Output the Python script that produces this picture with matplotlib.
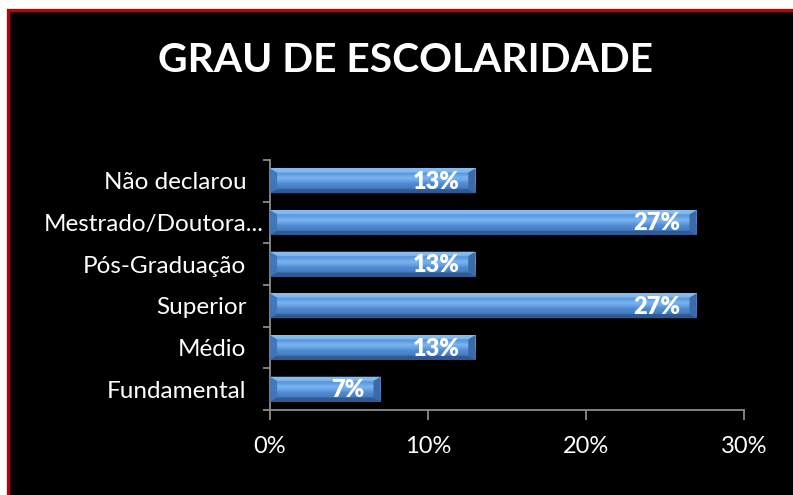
import numpy as np
import matplotlib
matplotlib.use("Agg")
import matplotlib.pyplot as plt
from matplotlib.patches import Rectangle, Polygon
from matplotlib.transforms import ScaledTranslation
from matplotlib.colors import LinearSegmentedColormap

# ---- data ----
categories = ["Fundamental", "Médio", "Superior", "Pós-Graduação",
              "Mestrado/Doutora...", "Não declarou"]
values = [7, 13, 27, 13, 27, 13]
value_labels = ["7%", "13%", "27%", "13%", "27%", "13%"]
xticks = [0, 10, 20, 30]
xtick_labels = ["0%", "10%", "20%", "30%"]
title = "GRAU DE ESCOLARIDADE"

FONT = "Lato"
W, H, DPI = 793, 495, 100
fig = plt.figure(figsize=(W / DPI, H / DPI), dpi=DPI, facecolor="white")

# black chart area with red border (left/top visible)
bg = Rectangle((8 / W, -0.2), 1.3, (H - 10) / H + 0.2, transform=fig.transFigure,
               facecolor="black", edgecolor="#c00000", linewidth=2.4, zorder=-10)
fig.patches.append(bg)

ax = fig.add_axes([270 / W, (H - 410) / H, (744 - 270) / W, (410 - 160) / H])
ax.set_zorder(5)
ax.set_facecolor("none")

axis_col = "#8c8c8c"
for s in ["top", "right"]:
    ax.spines[s].set_visible(False)
for s in ["left", "bottom"]:
    ax.spines[s].set_color(axis_col)
    ax.spines[s].set_linewidth(1.3)

# bar gradient (bottom -> top)
grad_cols = ["#30609c", "#3e72b4", "#4a82c8", "#4f8ad2", "#6aa4e6", "#7ab4f0", "#5e9ce2", "#5a98de", "#86bcf0"]
cmap = LinearSegmentedColormap.from_list("barg", grad_cols)
gradient = np.linspace(0, 1, 64).reshape(-1, 1)

bar_h = 0.6
bx = 0.45  # bevel width in data units (x)
by = 0.1   # bevel height in data units (y)
ypos = np.arange(len(categories))
for y, v in zip(ypos, values):
    y0, y1 = y - bar_h / 2, y + bar_h / 2
    ax.imshow(gradient, extent=(0, v, y0, y1), origin="lower", aspect="auto",
              cmap=cmap, zorder=2, interpolation="bilinear")
    # right bevel (darker)
    ax.add_patch(Polygon([(v - bx, y0 + by), (v, y0), (v, y1), (v - bx, y1 - by)],
                         closed=True, facecolor="#3a6aa8", edgecolor="none", zorder=3))
    # left bevel
    ax.add_patch(Polygon([(0, y0), (bx, y0 + by), (bx, y1 - by), (0, y1)],
                         closed=True, facecolor="#3f74b6", edgecolor="none", zorder=3, alpha=0.9))
    # bottom bevel
    ax.add_patch(Polygon([(0, y0), (v, y0), (v - bx, y0 + by), (bx, y0 + by)],
                         closed=True, facecolor="#2c5890", edgecolor="none", zorder=3, alpha=0.85))
    # top bevel
    ax.add_patch(Polygon([(0, y1), (v, y1), (v - bx, y1 - by), (bx, y1 - by)],
                         closed=True, facecolor="#8cbff0", edgecolor="none", zorder=3, alpha=0.8))
ax.set_xlim(0, 30)
ax.set_ylim(-0.5, len(categories) - 0.5)

for y, v, lab in zip(ypos, values, value_labels):
    ax.annotate(lab, xy=(v, y), xytext=(-16, -1), textcoords="offset pixels",
                ha="right", va="center", color="white", fontsize=17,
                fontweight="heavy", family=FONT, zorder=5)

# y axis ticks: major at boundaries, labels at centers
ax.set_yticks(np.arange(-0.5, len(categories), 1.0))
ax.set_yticklabels([])
ax.set_yticks(ypos, minor=True)
ax.set_yticklabels(categories, minor=True)
ax.tick_params(axis="y", which="major", length=5, width=1.3, color=axis_col, direction="out")
ax.tick_params(axis="y", which="minor", length=0, pad=17, labelcolor="white", labelsize=17.5)
for t in ax.get_yticklabels(minor=True):
    t.set_family(FONT)
    if t.get_text().startswith("Mestrado"):
        t.set_transform(t.get_transform() + ScaledTranslation(17 / DPI, 0, fig.dpi_scale_trans))

ax.set_xticks(xticks)
ax.set_xticklabels(xtick_labels)
ax.tick_params(axis="x", length=7, width=1.3, color=axis_col, pad=12,
               labelcolor="white", labelsize=17)
for t in ax.get_xticklabels():
    t.set_family(FONT)

fig.text(405 / W, 1 - 61 / H, title, ha="center", va="center", color="white",
         fontsize=29.3, fontweight="bold", family=FONT)

fig.savefig("out.png", dpi=DPI, facecolor="white")
